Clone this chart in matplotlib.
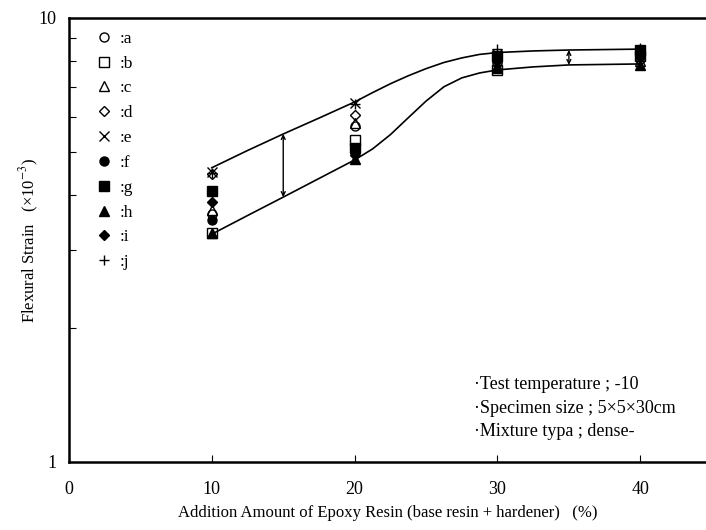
import matplotlib
matplotlib.use("Agg")
import matplotlib.pyplot as plt
from matplotlib.ticker import FixedLocator, NullFormatter

plt.rcParams["font.family"] = ["Liberation Serif", "DejaVu Serif"]
plt.rcParams["mathtext.fontset"] = "stix"

X = [10, 20, 30, 40]

# series values
SERIES = {
    "a": [3.62, 5.70, 7.90, 8.10],
    "b": [3.28, 5.30, 7.62, 8.20],
    "c": [3.70, 5.80, 7.80, 8.00],
    "d": [4.45, 6.05, 8.00, 8.30],
    "e": [4.50, 6.45, 8.30, 8.40],
    "f": [3.50, 4.98, 8.10, 8.20],
    "g": [4.08, 5.10, 8.20, 8.45],
    "h": [3.28, 4.82, 7.70, 7.85],
    "i": [3.86, 4.92, 8.00, 8.35],
    "j": [4.48, 6.40, 8.50, 8.55],
}
MARKERS = {
    "a": ("o", "none"), "b": ("s", "none"), "c": ("^", "none"),
    "d": ("D", "none"), "e": ("x", "none"), "f": ("o", "black"),
    "g": ("s", "black"), "h": ("^", "black"), "i": ("D", "black"),
    "j": ("+", "none"),
}

# envelope curves
UPPER_X = [10, 12.5, 15, 17.5, 20, 21.25, 22.5, 23.75, 25, 26.25, 27.5, 28.75,
           30, 32.5, 35, 37.5, 40]
UPPER = [4.60, 5.03, 5.48, 5.95, 6.47, 6.79, 7.11, 7.41, 7.69, 7.94, 8.13, 8.28,
         8.36, 8.43, 8.47, 8.49, 8.51]
LOWER_X = [10, 12.5, 15, 17.5, 20, 21.25, 22.5, 23.75, 25, 26.25, 27.5, 28.75,
           30, 32.5, 35, 37.5, 40]
LOWER = [3.26, 3.59, 3.95, 4.35, 4.79, 5.07, 5.46, 5.96, 6.50, 7.00, 7.33, 7.52,
         7.64, 7.76, 7.84, 7.86, 7.88]

ARROW_X = [15, 35]
ARROW_LO = [3.95, 7.84]
ARROW_HI = [5.48, 8.47]

NOTES = ["Test temperature ; -10", "Specimen size ; 5×5×30cm", "Mixture typa ; dense-"]

fig = plt.figure(figsize=(7.06, 5.30), dpi=100)
ax = fig.add_axes([69 / 706, 68 / 530, 637 / 706, 444 / 530])

ax.plot(UPPER_X, UPPER, color="black", lw=1.2, zorder=2)
ax.plot(LOWER_X, LOWER, color="black", lw=1.2, zorder=2)

for xa, lo, hi in zip(ARROW_X, ARROW_LO, ARROW_HI):
    ax.annotate("", xy=(xa, hi), xytext=(xa, lo),
                arrowprops=dict(arrowstyle="<->", color="black", lw=1.0,
                                shrinkA=0, shrinkB=0, mutation_scale=7))

for name, vals in SERIES.items():
    m, fc = MARKERS[name]
    ms = 5.5 if m == "D" else 6.5
    ax.plot(X, vals, linestyle="none", marker=m, markersize=ms,
            markerfacecolor=fc, markeredgecolor="black", color="black",
            markeredgewidth=1.0, label=":" + name, zorder=3)

ax.set_yscale("log")
ax.set_ylim(1, 10)
ax.set_xlim(0, 44.6)

ax.xaxis.set_major_locator(FixedLocator([0, 10, 20, 30, 40]))
ax.yaxis.set_major_locator(FixedLocator([1, 10]))
ax.yaxis.set_minor_locator(FixedLocator([2, 3, 4, 5, 6, 7, 8, 9]))
ax.yaxis.set_minor_formatter(NullFormatter())
ax.set_yticklabels(["1", "10"])
ax.tick_params(axis="x", which="major", direction="in", length=5,
               width=0.8, labelsize=13, pad=14)
ax.tick_params(axis="y", which="minor", direction="in", length=5, width=0.8)
ax.tick_params(axis="y", which="major", length=0, pad=9, labelsize=13)

for side in ["left", "bottom", "top"]:
    ax.spines[side].set_linewidth(1.8)
ax.spines["right"].set_visible(False)

ax.set_xlabel("Addition Amount of Epoxy Resin (base resin + hardener)   (%)",
              fontsize=12, labelpad=5)
ax.set_ylabel("Flexural Strain   (×10$^{-3}$)", fontsize=12, labelpad=-2)

leg = ax.legend(loc="upper left", bbox_to_anchor=(0.025, 0.995), frameon=False,
                fontsize=12.5, handlelength=1.0, handletextpad=0.4,
                labelspacing=0.5, borderaxespad=0.2)

for i, note in enumerate(NOTES):
    ax.text(0.636, 0.174 - i * 0.053, "·" + note, transform=ax.transAxes,
            fontsize=13, ha="left", va="center")

fig.savefig("out.png", dpi=100)
